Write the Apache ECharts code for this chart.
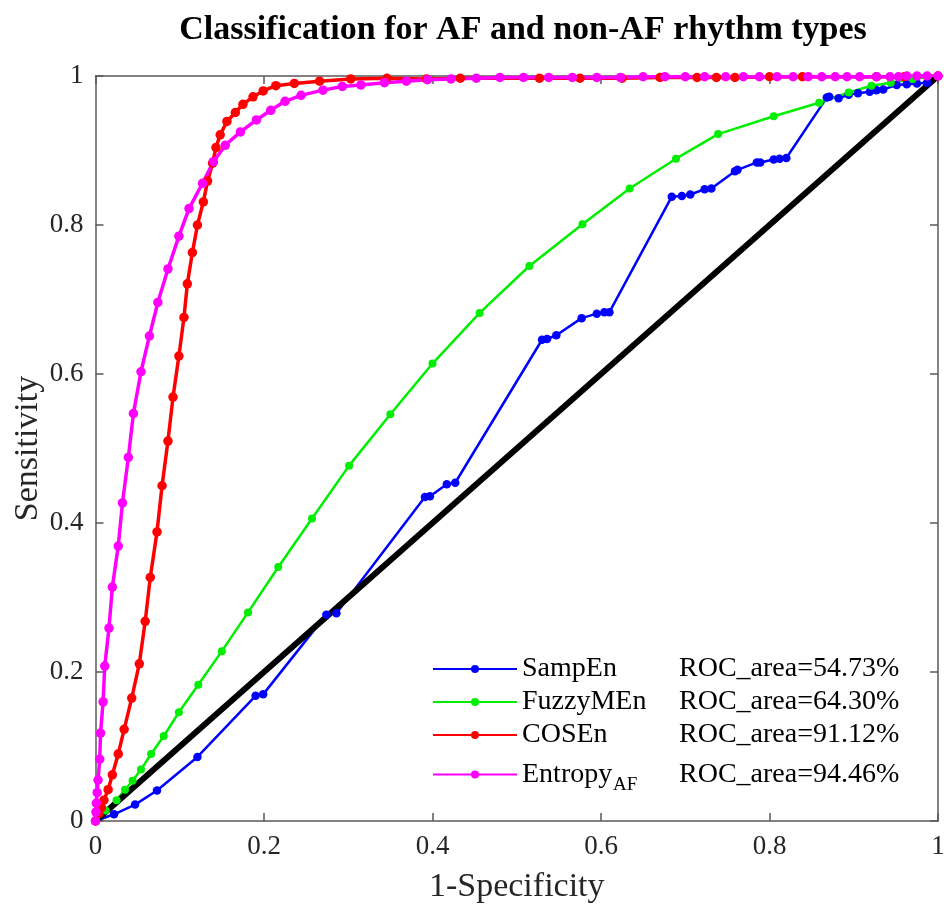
<!DOCTYPE html>
<html><head><meta charset="utf-8">
<script src="https://cdn.jsdelivr.net/npm/echarts@6/dist/echarts.min.js"></script>
<style>html,body{margin:0;padding:0;background:#fff}#c{width:944px;height:907px}</style>
</head><body><div id="c"></div>
<script>
const axisTicks = [0, 0.2, 0.4, 0.6, 0.8, 1];
const seriesNames = ['SampEn', 'FuzzyMEn', 'COSEn', 'EntropyAF'];
const rocAreas = ['54.73%', '64.30%', '91.12%', '94.46%'];

const sampEnX = [0, 0.022, 0.047, 0.073, 0.121, 0.190, 0.199, 0.274, 0.286, 0.391, 0.397, 0.417, 0.427, 0.530, 0.536, 0.547, 0.577, 0.595, 0.604, 0.610, 0.684, 0.696, 0.706, 0.723, 0.731, 0.759, 0.762, 0.785, 0.789, 0.805, 0.812, 0.820, 0.868, 0.871, 0.882, 0.894, 0.905, 0.919, 0.927, 0.935, 0.951, 0.963, 0.975, 0.987, 1];
const sampEnY = [0, 0.009, 0.022, 0.041, 0.086, 0.168, 0.170, 0.277, 0.279, 0.435, 0.436, 0.452, 0.454, 0.646, 0.647, 0.652, 0.675, 0.681, 0.683, 0.683, 0.838, 0.839, 0.841, 0.848, 0.849, 0.872, 0.874, 0.884, 0.884, 0.888, 0.889, 0.890, 0.971, 0.972, 0.970, 0.975, 0.977, 0.979, 0.981, 0.982, 0.988, 0.989, 0.990, 0.991, 1];

const fuzzyX = [0, 0.012, 0.025, 0.035, 0.044, 0.054, 0.066, 0.081, 0.099, 0.122, 0.150, 0.181, 0.217, 0.257, 0.301, 0.350, 0.400, 0.456, 0.515, 0.578, 0.634, 0.689, 0.739, 0.805, 0.859, 0.894, 0.921, 0.944, 0.970, 1];
const fuzzyY = [0, 0.014, 0.028, 0.042, 0.054, 0.069, 0.090, 0.114, 0.146, 0.183, 0.228, 0.280, 0.341, 0.406, 0.477, 0.546, 0.614, 0.682, 0.745, 0.801, 0.849, 0.889, 0.922, 0.946, 0.964, 0.978, 0.987, 0.991, 0.996, 1];

const cosEnX = [0, 0.004, 0.007, 0.010, 0.015, 0.020, 0.027, 0.034, 0.043, 0.052, 0.059, 0.065, 0.073, 0.079, 0.086, 0.092, 0.099, 0.105, 0.109, 0.115, 0.121, 0.128, 0.133, 0.139, 0.143, 0.148, 0.156, 0.166, 0.175, 0.187, 0.199, 0.214, 0.236, 0.266, 0.303, 0.346, 0.393, 0.433, 0.527, 0.575, 0.625, 0.670, 0.714, 0.737, 0.759, 0.800, 0.839, 0.927, 0.960, 1];
const cosEnY = [0, 0.010, 0.018, 0.028, 0.042, 0.062, 0.090, 0.123, 0.165, 0.211, 0.268, 0.327, 0.388, 0.450, 0.510, 0.569, 0.624, 0.676, 0.721, 0.763, 0.800, 0.831, 0.859, 0.883, 0.904, 0.921, 0.939, 0.951, 0.962, 0.972, 0.980, 0.987, 0.990, 0.993, 0.996, 0.997, 0.996, 0.997, 0.997, 0.997, 0.997, 0.998, 0.998, 0.998, 0.998, 0.999, 0.999, 0.999, 0.999, 1];

const entropyX = [0, 0.0005, 0.001, 0.002, 0.003, 0.005, 0.006, 0.009, 0.011, 0.016, 0.020, 0.027, 0.032, 0.039, 0.045, 0.054, 0.064, 0.074, 0.086, 0.099, 0.111, 0.127, 0.140, 0.154, 0.172, 0.191, 0.208, 0.225, 0.244, 0.270, 0.293, 0.315, 0.343, 0.369, 0.394, 0.422, 0.452, 0.480, 0.508, 0.538, 0.566, 0.595, 0.623, 0.650, 0.676, 0.700, 0.723, 0.748, 0.769, 0.788, 0.809, 0.828, 0.846, 0.862, 0.878, 0.892, 0.907, 0.927, 0.943, 0.953, 0.963, 0.975, 0.987, 1];
const entropyY = [0, 0.012, 0.024, 0.038, 0.055, 0.083, 0.118, 0.160, 0.208, 0.259, 0.314, 0.369, 0.427, 0.488, 0.547, 0.603, 0.651, 0.696, 0.741, 0.785, 0.822, 0.856, 0.885, 0.907, 0.925, 0.941, 0.954, 0.966, 0.974, 0.981, 0.986, 0.988, 0.991, 0.993, 0.995, 0.996, 0.997, 0.998, 0.998, 0.998, 0.998, 0.998, 0.998, 0.999, 0.999, 0.999, 0.999, 0.999, 0.999, 0.999, 0.999, 0.999, 0.999, 0.999, 0.999, 0.999, 0.999, 0.999, 0.999, 0.999, 1, 1, 1, 1];

const chanceX = [0, 1];
const chanceY = [0, 1];

const zip = (xs, ys) => xs.map((x, i) => [x, ys[i]]);
const FONT = '"Liberation Serif", "Times New Roman", serif';
const AX = '#5a5a5a';

function mkLine(name, xs, ys, color, lw, sym) {
  return {
    name: name, type: 'line', data: zip(xs, ys),
    symbol: 'circle', symbolSize: sym, showSymbol: true,
    lineStyle: { color: color, width: lw },
    itemStyle: { color: color },
    emphasis: { disabled: true }, animation: false, clip: false
  };
}

const chart = echarts.init(document.getElementById('c'), null, { renderer: 'canvas' });
const baseAxis = {
  type: 'value', min: 0, max: 1, interval: 0.2,
  splitLine: { show: false },
  axisLine: { show: true, onZero: false, lineStyle: { color: AX, width: 1.5 } },
  axisTick: { show: true, inside: true, length: 8, lineStyle: { color: AX, width: 1.5 } }
};
chart.setOption({
  backgroundColor: '#fff',
  animation: false,
  title: {
    text: 'Classification for AF and non-AF rhythm types',
    left: 518, top: 8, textAlign: 'center',
    textStyle: { fontFamily: FONT, fontWeight: 'bold', fontSize: 34, color: '#000' }
  },
  grid: { left: 95.5, right: 6, top: 76, bottom: 86, outerBoundsMode: 'none', containLabel: false },
  xAxis: [
    Object.assign({}, baseAxis, {
      position: 'bottom',
      name: '1-Specificity', nameLocation: 'middle', nameGap: 49, nameMoveOverlap: false,
      nameTextStyle: { fontFamily: FONT, fontSize: 34, color: '#262626' },
      axisLabel: { fontFamily: FONT, fontSize: 27, color: '#262626', margin: 12,
        formatter: v => axisTicks.includes(+v.toFixed(1)) ? String(+v.toFixed(1)) : '' }
    }),
    Object.assign({}, baseAxis, { position: 'top', axisLabel: { show: false } })
  ],
  yAxis: [
    Object.assign({}, baseAxis, {
      position: 'left',
      name: 'Sensitivity', nameLocation: 'middle', nameGap: 50, nameMoveOverlap: false,
      nameTextStyle: { fontFamily: FONT, fontSize: 34, color: '#262626' },
      axisLabel: { fontFamily: FONT, fontSize: 27, color: '#262626', margin: 12,
        formatter: v => String(+v.toFixed(1)) }
    }),
    Object.assign({}, baseAxis, { position: 'right', axisLabel: { show: false } })
  ],
  legend: {
    orient: 'vertical', left: 427, top: 650,
    itemWidth: 84, itemHeight: 10, itemGap: 5,
    data: seriesNames,
    textStyle: {
      fontFamily: FONT, fontSize: 28, color: '#000',
      rich: {
        w: { fontFamily: FONT, fontSize: 28, width: 157, lineHeight: 29 },
        n: { fontFamily: FONT, fontSize: 28, width: 91, lineHeight: 29 },
        s: { fontFamily: FONT, fontSize: 19, width: 66, lineHeight: 29, padding: [22, 0, 0, 0] },
        r: { fontFamily: FONT, fontSize: 28, lineHeight: 29 }
      }
    },
    formatter: function (name) {
      const i = seriesNames.indexOf(name);
      const roc = 'ROC_area=' + rocAreas[i];
      if (name === 'EntropyAF') return '{n|Entropy}{s|AF}{r|' + roc + '}';
      return '{w|' + name + '}{r|' + roc + '}';
    }
  },
  series: [
    mkLine('SampEn', sampEnX, sampEnY, '#0000ff', 2.5, 8.5),
    mkLine('FuzzyMEn', fuzzyX, fuzzyY, '#00ee00', 2.5, 8),
    mkLine('COSEn', cosEnX, cosEnY, '#ff0000', 3.5, 9.5),
    mkLine('EntropyAF', entropyX, entropyY, '#ff00ff', 3.5, 9.5),
    {
      name: 'chance', type: 'line', data: zip(chanceX, chanceY), symbol: 'none',
      lineStyle: { color: '#000', width: 6 }, emphasis: { disabled: true }, silent: true
    }
  ]
});
</script></body></html>
